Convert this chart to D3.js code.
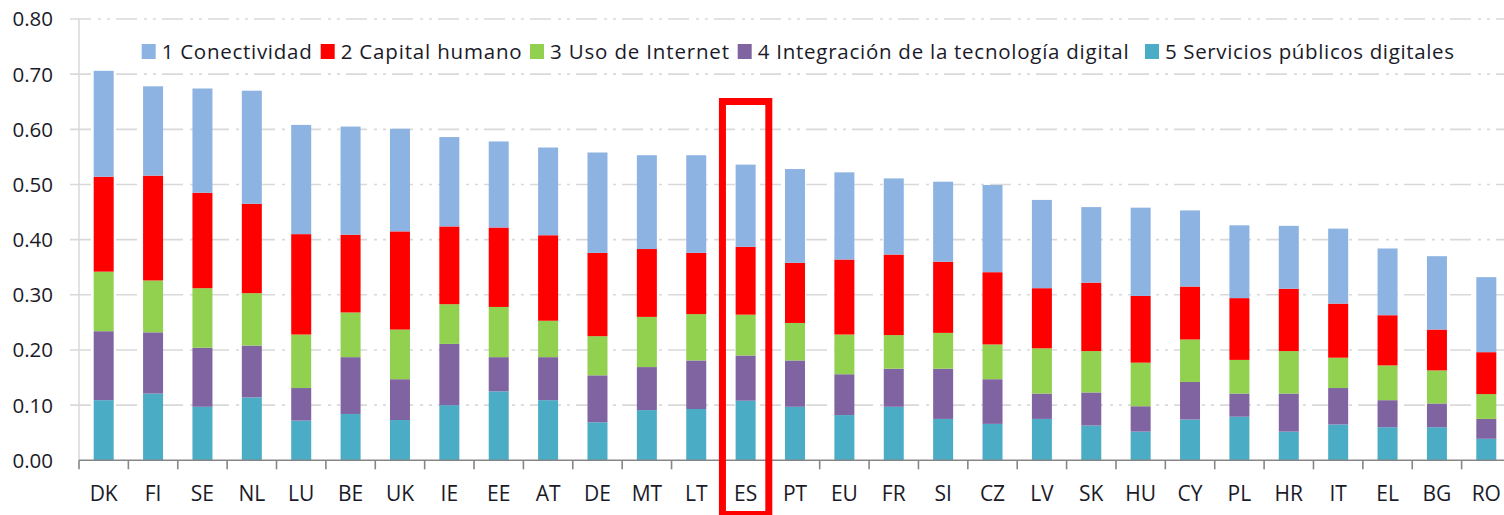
<!DOCTYPE html>
<html>
<head>
<meta charset="utf-8">
<style>
body { margin: 0; background: #fff; }
svg { display: block; font-family: "Open Sans", sans-serif; }
</style>
</head>
<body>
<svg width="1504" height="515"></svg>
<script src="https://cdn.jsdelivr.net/npm/d3@7"></script>
<script>
// data
var paises = ["DK","FI","SE","NL","LU","BE","UK","IE","EE","AT","DE","MT","LT","ES","PT","EU","FR","SI","CZ","LV","SK","HU","CY","PL","HR","IT","EL","BG","RO"];
var conectividad = [.192,.162,.189,.205,.198,.196,.186,.162,.156,.159,.182,.170,.177,.149,.170,.158,.138,.145,.158,.160,.137,.160,.138,.132,.114,.136,.121,.133,.136];
var capitalHumano = [.172,.190,.173,.162,.182,.141,.178,.141,.144,.155,.151,.123,.111,.123,.109,.136,.146,.129,.131,.109,.124,.121,.096,.112,.113,.098,.091,.074,.076];
var usoInternet = [.108,.094,.108,.095,.097,.081,.090,.072,.091,.066,.071,.091,.084,.074,.068,.072,.061,.065,.063,.082,.075,.079,.077,.061,.077,.055,.063,.060,.045];
var integracion = [.125,.111,.107,.094,.059,.103,.074,.111,.062,.078,.085,.078,.088,.082,.084,.074,.069,.091,.081,.046,.060,.046,.068,.042,.069,.066,.049,.043,.036];
var serviciosPublicos = [.109,.121,.097,.114,.072,.084,.073,.100,.125,.109,.069,.091,.093,.108,.097,.082,.097,.075,.066,.075,.063,.052,.074,.079,.052,.065,.060,.060,.039];
var yTicks = [0, 0.1, 0.2, 0.3, 0.4, 0.5, 0.6, 0.7, 0.8];
var destacado = "ES";

var series = [
  {key: "5 Servicios públicos digitales", values: serviciosPublicos, color: "#4bacc6"},
  {key: "4 Integración de la tecnología digital", values: integracion, color: "#8064a2"},
  {key: "3 Uso de Internet", values: usoInternet, color: "#92d050"},
  {key: "2 Capital humano", values: capitalHumano, color: "#ff0000"},
  {key: "1 Conectividad", values: conectividad, color: "#8db3e2"}
];

var table = paises.map(function(p, i) {
  var row = {pais: p};
  series.forEach(function(s) { row[s.key] = s.values[i]; });
  return row;
});

var svg = d3.select("svg");
var plotL = 79, plotR = 1511, plotT = 19, plotB = 460.3;

var x = d3.scaleBand().domain(paises).range([plotL, plotR])
    .paddingInner(0.595).paddingOuter(0.2975);
var xb = d3.scaleBand().domain(paises).range([plotL, plotR]);
var y = d3.scaleLinear().domain([0, 0.8]).range([plotB, plotT]);

// gridlines
svg.append("g")
  .selectAll("line")
  .data(yTicks.filter(function(d) { return d > 0; }))
  .enter().append("line")
    .attr("x1", 70).attr("x2", plotR)
    .attr("y1", function(d) { return y(d); })
    .attr("y2", function(d) { return y(d); })
    .attr("stroke", "#d9d9d9")
    .attr("stroke-width", 1.6)
    .attr("stroke-dasharray", "21,7,3,6,3,6");

// y axis line
svg.append("line")
  .attr("x1", plotL).attr("x2", plotL)
  .attr("y1", plotT).attr("y2", plotB)
  .attr("stroke", "#d9d9d9").attr("stroke-width", 1.5);

// y labels
svg.append("g")
  .selectAll("text")
  .data(yTicks)
  .enter().append("text")
    .attr("x", 53)
    .attr("y", function(d) { return y(d); })
    .attr("dy", "0.36em")
    .attr("text-anchor", "end")
    .attr("font-size", 20.5)
    .attr("fill", "#1a1a28")
    .text(function(d) { return d.toFixed(2); });

// bars
var stack = d3.stack().keys(series.map(function(s) { return s.key; }));
svg.append("g")
  .selectAll("g")
  .data(stack(table))
  .enter().append("g")
    .attr("fill", function(d, i) { return series[i].color; })
  .selectAll("rect")
  .data(function(d) { return d; })
  .enter().append("rect")
    .attr("x", function(d) { return x(d.data.pais); })
    .attr("y", function(d) { return y(d[1]); })
    .attr("height", function(d) { return y(d[0]) - y(d[1]); })
    .attr("width", x.bandwidth());

// x axis
var xAxis = svg.append("g");
xAxis.append("line")
  .attr("x1", plotL).attr("x2", plotR)
  .attr("y1", plotB).attr("y2", plotB)
  .attr("stroke", "#868686").attr("stroke-width", 1.6);
xAxis.selectAll(".tk")
  .data(paises)
  .enter().append("line")
    .attr("class", "tk")
    .attr("x1", function(d) { return xb(d); })
    .attr("x2", function(d) { return xb(d); })
    .attr("y1", plotB).attr("y2", plotB + 9)
    .attr("stroke", "#868686").attr("stroke-width", 1.6);
xAxis.selectAll("text")
  .data(paises)
  .enter().append("text")
    .attr("x", function(d) { return x(d) + x.bandwidth() / 2; })
    .attr("y", 501)
    .attr("text-anchor", "middle")
    .attr("font-size", 21)
    .attr("fill", "#1a1a28")
    .text(function(d) { return d; });

// highlight box around ES
svg.append("rect")
  .attr("x", xb(destacado) + 1.5)
  .attr("y", 101.5)
  .attr("width", xb.bandwidth() - 3)
  .attr("height", 413)
  .attr("fill", "none")
  .attr("stroke", "#ff0000")
  .attr("stroke-width", 7);

// legend (order 1..5)
var legendX = [141.7, 320.7, 530, 737.7, 1145];
var legendW = [150, 181, 179, 371, 289];
var legend = svg.append("g")
  .selectAll("g")
  .data(series.slice().reverse())
  .enter().append("g")
    .attr("transform", function(d, i) { return "translate(" + legendX[i] + ",0)"; });
legend.append("rect")
  .attr("y", 44)
  .attr("width", 14).attr("height", 15)
  .attr("fill", function(d) { return d.color; });
legend.append("text")
  .attr("x", 20)
  .attr("y", 59)
  .attr("font-size", 20.5)
  .attr("fill", "#1a1a28")
  .attr("textLength", function(d, i) { return legendW[i]; })
  .attr("lengthAdjust", "spacing")
  .text(function(d) { return d.key; });
</script>
</body>
</html>
